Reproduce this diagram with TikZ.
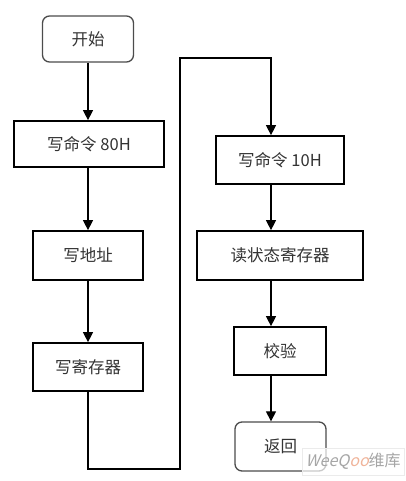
\documentclass[tikz,border=0pt]{standalone}
\usepackage{fontspec}
\usepackage{tikz}
\usepackage{xcolor}
\usetikzlibrary{arrows.meta}
\newfontfamily\cjk{Noto Sans CJK SC}
\newfontfamily\cjkslant[FakeSlant=0.25]{Noto Sans CJK SC}
\definecolor{txtgray}{HTML}{333333}
\definecolor{wmorange}{HTML}{F0B49A}

\begin{document}
\begin{tikzpicture}[x=1pt,y=-1pt,
  termbox/.style={draw=black!70,line width=1.3pt,rounded corners=7pt,inner sep=0pt,text=txtgray,font=\cjk\fontsize{16.5}{19}\selectfont},
  procbox/.style={draw=black,line width=1.7pt,inner sep=0pt,text=txtgray,font=\cjk\fontsize{16.5}{19}\selectfont},
  flow/.style={line width=1.1pt,-{Triangle[length=10pt,width=10pt]}}]
\useasboundingbox (0,0) rectangle (406,481);
\node[termbox,minimum width=91pt,minimum height=46pt] (start) at (88,39) {开始};
\node[procbox,minimum width=150pt,minimum height=46pt] (cmdA) at (89,144) {写命令 80H};
\node[procbox,minimum width=110pt,minimum height=49pt] (addr) at (88,255.5) {写地址};
\node[procbox,minimum width=110pt,minimum height=48pt] (reg) at (88,367) {写寄存器};
\node[procbox,minimum width=128pt,minimum height=48pt] (cmdB) at (280,160) {写命令 10H};
\node[procbox,minimum width=166pt,minimum height=49pt] (readst) at (280,255.5) {读状态寄存器};
\node[procbox,minimum width=92pt,minimum height=48pt] (check) at (280,351) {校验};
\node[termbox,minimum width=91pt,minimum height=49pt] (ret) at (280.5,446.5) {返回};
\coordinate (xr) at (271,0);
\coordinate (lowturn) at (180,469);
\coordinate (topturn) at (180,58);
\draw[flow] (start.south) -- (start.south |- cmdA.north);
\draw[flow] (cmdA.south -| addr.north) -- (addr.north);
\draw[flow] (addr.south) -- (reg.north);
\draw[flow] (reg.south) |- (lowturn) -- (topturn) -| (cmdB.north -| xr);
\draw[flow] (cmdB.south -| xr) -- (readst.north -| xr);
\draw[flow] (readst.south -| xr) -- (check.north -| xr);
\draw[flow] (check.south -| xr) -- (ret.north -| xr);
\node[draw=black!8,fill=white,fill opacity=0.7,text opacity=1,minimum width=102pt,minimum height=27pt,inner sep=0pt,anchor=north west] (wmark) at (302,448)
  {\fontsize{16}{18}\selectfont\color{black!35}\cjkslant Wee\-Q\textcolor{wmorange}{oo}\cjk 维库};
\end{tikzpicture}
\end{document}
